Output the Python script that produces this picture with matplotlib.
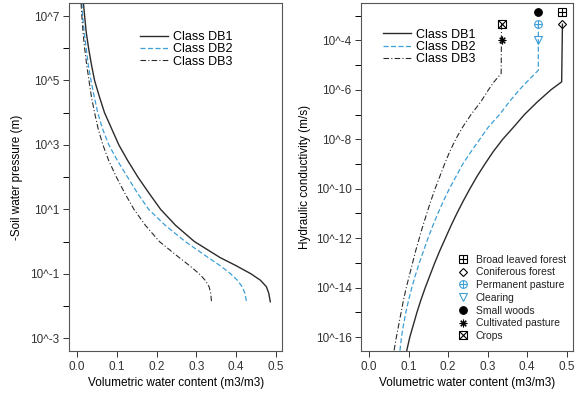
import numpy as np
import matplotlib.pyplot as plt
from matplotlib.lines import Line2D

plt.rcParams['font.family'] = ['Liberation Sans', 'DejaVu Sans']

# retention curves: log10 pressure head (m) vs volumetric water content
h_db1 = [7.4, 7.0, 6.5, 6.0, 5.5, 5.0, 4.5, 4.0, 3.5, 3.0, 2.5, 2.0, 1.5, 1.0, 0.5, 0.0,
         -0.5, -0.75, -1.0, -1.2, -1.4, -1.6, -1.87]
wc_db1 = [0.016, 0.019, 0.023, 0.029, 0.036, 0.044, 0.056, 0.069, 0.087, 0.105, 0.128, 0.153,
          0.181, 0.21, 0.248, 0.295, 0.36, 0.40, 0.437, 0.461, 0.476, 0.482, 0.486]
h_db2 = [7.4, 7.0, 6.5, 6.0, 5.5, 5.0, 4.5, 4.0, 3.5, 3.0, 2.5, 2.0, 1.5, 1.0, 0.5, 0.0,
         -0.5, -0.75, -1.0, -1.2, -1.4, -1.6, -1.85]
wc_db2 = [0.012, 0.014, 0.018, 0.023, 0.028, 0.035, 0.043, 0.052, 0.064, 0.08, 0.102, 0.127,
          0.152, 0.18, 0.222, 0.272, 0.33, 0.36, 0.386, 0.403, 0.415, 0.422, 0.426]
h_db3 = [7.4, 7.0, 6.5, 6.0, 5.5, 5.0, 4.5, 4.0, 3.5, 3.0, 2.5, 2.0, 1.5, 1.0, 0.5, 0.0,
         -0.5, -0.75, -1.0, -1.2, -1.4, -1.6, -1.85]
wc_db3 = [0.010, 0.012, 0.015, 0.019, 0.024, 0.030, 0.036, 0.044, 0.053, 0.065, 0.08, 0.099,
          0.12, 0.143, 0.172, 0.207, 0.257, 0.283, 0.307, 0.322, 0.332, 0.336, 0.338]

# conductivity curves: log10 K (m/s) vs water content
k_db1 = [-3.35, -5.68, -6.0, -6.5, -7.0, -7.5, -8.0, -8.5, -9.0, -9.5, -10.0, -10.5, -11.0,
         -11.5, -12.0, -12.5, -13.0, -13.5, -14.0, -14.5, -15.0, -15.5, -16.0, -16.56]
kw_db1 = [0.489, 0.487, 0.46, 0.425, 0.393, 0.366, 0.338, 0.314, 0.293, 0.273, 0.255, 0.238,
          0.222, 0.207, 0.193, 0.179, 0.166, 0.154, 0.142, 0.131, 0.121, 0.112, 0.103, 0.095]
k_db2 = [-3.35, -5.21, -5.5, -6.0, -6.5, -7.0, -7.5, -8.0, -8.5, -9.0, -9.5, -10.0, -10.5,
         -11.0, -11.5, -12.0, -12.5, -13.0, -13.5, -14.0, -14.5, -15.0, -15.5, -16.0, -16.56]
kw_db2 = [0.428, 0.428, 0.41, 0.38, 0.354, 0.33, 0.302, 0.28, 0.258, 0.237, 0.22, 0.203, 0.188,
          0.174, 0.161, 0.149, 0.138, 0.127, 0.117, 0.108, 0.100, 0.093, 0.087, 0.082, 0.078]
k_db3 = [-3.35, -5.34, -5.7, -6.0, -6.5, -7.0, -7.5, -8.0, -8.5, -9.0, -9.5, -10.0, -10.5,
         -11.0, -11.5, -12.0, -12.5, -13.0, -13.5, -14.0, -14.5, -15.0, -15.5, -16.0, -16.56]
kw_db3 = [0.335, 0.334, 0.315, 0.302, 0.282, 0.258, 0.237, 0.219, 0.204, 0.191, 0.179, 0.167,
          0.156, 0.146, 0.136, 0.127, 0.118, 0.11, 0.102, 0.094, 0.087, 0.081, 0.075, 0.069, 0.063]

# saturated conductivity per land use
landuse = ['Broad leaved forest', 'Coniferous forest', 'Permanent pasture', 'Clearing',
           'Small woods', 'Cultivated pasture', 'Crops']
lu_wc = [0.489, 0.489, 0.428, 0.428, 0.428, 0.335, 0.335]
lu_k = [-2.86, -3.35, -3.35, -3.97, -2.86, -3.97, -3.35]

blue = '#3d9fd6'
dark = '#2b2b2b'
lu_color = ['black', 'black', blue, blue, 'black', 'black', 'black']
# each marker drawn as overlaid symbols
lu_marks = [[('s', 'none'), ('+', None)], [('D', 'none')], [('o', 'none'), ('+', None)],
            [('v', 'none')], [('o', 'full')], [((8, 2, 0), None)], [('s', 'none'), ('x', None)]]

styles = [dict(color=dark, ls='-', lw=1.0),
          dict(color=blue, ls=(0, (4, 2)), lw=0.9),
          dict(color=dark, ls=(0, (5, 2, 1, 2)), lw=0.8)]
names = ['Class DB1', 'Class DB2', 'Class DB3']

fig = plt.figure(figsize=(5.76, 3.94), dpi=100)
ax1 = fig.add_axes([0.12, 0.109, 0.37, 0.883])
ax2 = fig.add_axes([0.627, 0.109, 0.368, 0.883])

for (wc, h), st, nm in zip([(wc_db1, h_db1), (wc_db2, h_db2), (wc_db3, h_db3)], styles, names):
    ax1.plot(wc, 10.0 ** np.array(h), label=nm, **st)
for (wc, k), st, nm in zip([(kw_db1, k_db1), (kw_db2, k_db2), (kw_db3, k_db3)], styles, names):
    ax2.plot(wc, 10.0 ** np.array(k), label=nm, **st)

def marker_handles(i, x=None, y=None, ax=None):
    hs = []
    for m, fs in lu_marks[i]:
        size = 4.2 if m == 'D' else 5.5
        kw = dict(marker=m, color=lu_color[i], ms=size, mew=0.8, ls='none')
        if fs is not None:
            kw['fillstyle'] = fs
        if ax is not None:
            ax.plot([x], [y], **kw)
        else:
            hs.append(Line2D([], [], **kw))
    return tuple(hs)

for i in range(len(landuse)):
    marker_handles(i, lu_wc[i], 10.0 ** lu_k[i], ax2)

for ax in (ax1, ax2):
    ax.set_yscale('log')
    ax.set_xlim(-0.02, 0.516)
    ax.set_xticks([0.0, 0.1, 0.2, 0.3, 0.4, 0.5])
    ax.set_xticklabels(['0.0', '0.1', '0.2', '0.3', '0.4', '0.5'])
    ax.tick_params(labelsize=8.5, length=4, width=0.7, colors='#333333', pad=3)
    ax.tick_params(axis='y', which='minor', length=4, width=0.7)
    ax.set_xlabel('Volumetric water content (m3/m3)', fontsize=8.5, labelpad=3)
    for s in ax.spines.values():
        s.set_color('#555555')
        s.set_linewidth(0.8)

ax1.set_ylim(10 ** -3.4, 10 ** 7.4)
ax1.set_yticks([10.0 ** e for e in [-3, -1, 1, 3, 5, 7]])
ax1.set_yticklabels(['10^-3', '10^-1', '10^1', '10^3', '10^5', '10^7'])
ax1.set_yticks([10.0 ** e for e in [-2, 0, 2, 4, 6]], minor=True)
ax1.set_yticklabels([], minor=True)
ax1.set_ylabel('-Soil water pressure (m)', fontsize=8.5, labelpad=5)

ax2.set_ylim(10 ** -16.56, 10 ** -2.5)
ax2.set_yticks([10.0 ** e for e in [-16, -14, -12, -10, -8, -6, -4]])
ax2.set_yticklabels(['10^-16', '10^-14', '10^-12', '10^-10', '10^-8', '10^-6', '10^-4'])
ax2.set_yticks([10.0 ** e for e in [-15, -13, -11, -9, -7, -5, -3]], minor=True)
ax2.set_yticklabels([], minor=True)
ax2.set_ylabel('Hydraulic conductivity (m/s)', fontsize=8.5, labelpad=3)

ax1.legend(loc='upper left', bbox_to_anchor=(0.333, 0.92), frameon=False, fontsize=9,
           handlelength=2.2, handletextpad=0.4, labelspacing=0.03, borderpad=0, borderaxespad=0)
leg2 = ax2.legend(loc='upper left', bbox_to_anchor=(0.104, 0.927), frameon=False, fontsize=9,
                  handlelength=2.2, handletextpad=0.4, labelspacing=0.03, borderpad=0, borderaxespad=0)
ax2.add_artist(leg2)

mh = [marker_handles(i) for i in range(len(landuse))]
leg3 = ax2.legend(mh, landuse, loc='upper left', bbox_to_anchor=(0.455, 0.277), frameon=False,
                  fontsize=7.5, handlelength=1.0, handletextpad=0.75, labelspacing=0.26,
                  borderpad=0, borderaxespad=0)
for t in leg3.get_texts():
    t.set_color('#222222')

fig.savefig('out.png', dpi=100)
